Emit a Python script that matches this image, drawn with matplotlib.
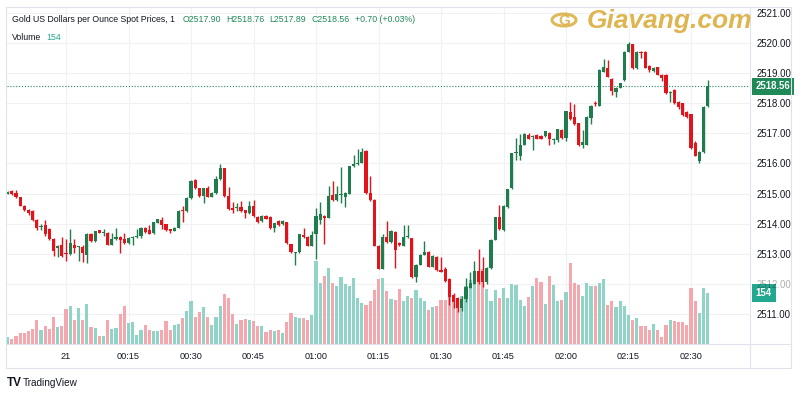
import matplotlib.pyplot as plt
import matplotlib.transforms as mtransforms
import numpy as np
import pandas as pd
from matplotlib.patches import Rectangle, Circle
from matplotlib.lines import Line2D

plt.rcParams['font.family'] = ['Liberation Sans Narrow', 'Liberation Sans', 'DejaVu Sans']

# 1-minute candles, 23:46 -> 02:34
opens = [2515.00, 2515.09, 2515.02, 2514.87, 2514.60, 2514.46, 2514.42, 2514.11, 2513.88, 2513.95,
         2513.83, 2513.50, 2513.20, 2513.28, 2513.00, 2512.99, 2513.30, 2513.22, 2513.24, 2512.97,
         2513.66, 2513.42, 2513.78, 2513.68, 2513.68, 2513.30, 2513.48, 2513.57, 2513.48, 2513.35,
         2513.51, 2513.55, 2513.58, 2513.87, 2513.78, 2513.68, 2514.03, 2514.12, 2513.98, 2513.81,
         2513.76, 2513.86, 2514.43, 2514.42, 2514.85, 2515.45, 2515.18, 2514.93, 2515.18, 2514.89,
         2515.02, 2515.48, 2515.84, 2514.91, 2514.52, 2514.52, 2514.56, 2514.45, 2514.34, 2514.60,
         2514.23, 2514.09, 2514.27, 2514.23, 2513.84, 2514.09, 2513.98, 2514.05, 2513.32, 2513.02,
         2513.05, 2513.62, 2513.57, 2513.27, 2513.65, 2514.12, 2514.27, 2514.20, 2514.96, 2514.77,
         2514.94, 2514.89, 2514.99, 2515.91, 2515.98, 2516.02, 2516.42, 2515.02, 2514.80, 2513.27,
         2512.50, 2513.57, 2513.38, 2513.73, 2513.36, 2513.27, 2513.54, 2513.51, 2512.23, 2512.63,
         2512.97, 2513.07, 2512.57, 2512.90, 2512.46, 2512.50, 2512.15, 2511.64, 2511.52, 2511.20,
         2511.48, 2511.87, 2512.01, 2512.42, 2512.42, 2512.07, 2512.52, 2513.46, 2514.21, 2513.79,
         2514.54, 2515.18, 2516.34, 2516.26, 2516.63, 2516.96, 2516.88, 2516.93, 2516.90, 2516.90,
         2517.01, 2516.79, 2516.79, 2517.11, 2516.84, 2517.70, 2517.55, 2517.33, 2516.62, 2516.63,
         2517.52, 2518.00, 2517.92, 2519.05, 2519.18, 2518.81, 2518.39, 2518.52, 2518.77, 2519.71,
         2519.96, 2519.16, 2519.72, 2519.71, 2519.25, 2519.07, 2519.20, 2518.94, 2518.94, 2518.35,
         2518.44, 2518.05, 2518.00, 2517.72, 2517.63, 2516.67, 2516.08, 2516.37, 2517.90]
highs = [2515.07, 2515.12, 2515.12, 2514.90, 2514.63, 2514.48, 2514.45, 2514.14, 2513.98, 2514.11,
         2513.86, 2513.53, 2513.30, 2513.57, 2513.50, 2513.83, 2513.48, 2513.26, 2513.28, 2513.68,
         2513.68, 2513.77, 2513.80, 2513.83, 2513.72, 2513.70, 2513.87, 2513.60, 2513.70, 2513.54,
         2513.58, 2513.83, 2513.90, 2513.90, 2513.95, 2514.07, 2514.16, 2514.23, 2514.00, 2513.83,
         2513.88, 2514.44, 2514.59, 2514.87, 2515.45, 2515.47, 2515.20, 2515.20, 2515.26, 2515.04,
         2515.57, 2515.97, 2515.86, 2515.22, 2514.73, 2514.67, 2514.74, 2514.47, 2514.74, 2514.78,
         2514.25, 2514.29, 2514.29, 2514.25, 2514.03, 2514.11, 2514.11, 2514.07, 2513.34, 2513.06,
         2513.67, 2513.85, 2513.59, 2513.76, 2514.52, 2514.71, 2514.29, 2515.24, 2515.42, 2515.24,
         2515.89, 2515.04, 2515.93, 2516.27, 2516.49, 2516.52, 2516.44, 2515.57, 2514.82, 2513.29,
         2513.65, 2514.08, 2513.78, 2513.75, 2513.38, 2513.95, 2513.95, 2513.53, 2512.65, 2512.99,
         2513.42, 2513.09, 2512.95, 2512.92, 2512.90, 2512.55, 2512.20, 2511.70, 2511.55, 2511.60,
         2512.20, 2512.40, 2512.75, 2513.15, 2512.90, 2512.55, 2513.48, 2514.23, 2514.62, 2514.62,
         2515.16, 2516.36, 2516.85, 2516.99, 2517.01, 2517.01, 2516.95, 2516.98, 2516.95, 2517.09,
         2517.03, 2516.85, 2517.15, 2517.13, 2517.76, 2518.05, 2517.98, 2517.35, 2517.10, 2517.57,
         2517.94, 2518.07, 2519.13, 2519.48, 2519.43, 2518.83, 2518.54, 2518.68, 2519.73, 2520.03,
         2519.98, 2519.73, 2519.75, 2519.73, 2519.27, 2519.20, 2519.22, 2518.96, 2518.96, 2518.40,
         2518.46, 2518.07, 2518.02, 2517.74, 2517.65, 2516.75, 2516.41, 2517.91, 2518.76]
lows = [2514.98, 2514.94, 2514.86, 2514.57, 2514.42, 2514.30, 2514.08, 2513.78, 2513.80, 2513.60,
        2513.44, 2512.93, 2512.90, 2512.88, 2512.75, 2512.96, 2513.04, 2512.75, 2512.72, 2512.70,
        2513.40, 2513.40, 2513.68, 2513.60, 2513.28, 2513.28, 2513.46, 2513.03, 2513.32, 2513.32,
        2513.30, 2513.53, 2513.52, 2513.70, 2513.64, 2513.66, 2514.01, 2513.81, 2513.77, 2513.69,
        2513.74, 2513.84, 2514.06, 2514.40, 2514.83, 2515.15, 2514.89, 2514.70, 2514.87, 2514.87,
        2515.00, 2515.46, 2514.89, 2514.47, 2514.35, 2514.42, 2514.40, 2514.18, 2514.32, 2514.23,
        2514.03, 2514.07, 2514.14, 2513.82, 2513.72, 2513.93, 2513.96, 2513.34, 2513.03, 2512.62,
        2513.03, 2513.52, 2513.25, 2513.25, 2512.83, 2514.00, 2513.32, 2514.18, 2514.75, 2514.75,
        2514.70, 2514.55, 2514.97, 2515.89, 2515.96, 2516.00, 2515.00, 2514.76, 2513.25, 2512.48,
        2512.48, 2513.36, 2513.36, 2512.52, 2513.25, 2513.25, 2513.52, 2512.21, 2512.05, 2512.61,
        2512.95, 2512.55, 2512.55, 2512.44, 2512.38, 2512.05, 2511.30, 2511.20, 2511.05, 2511.10,
        2511.40, 2511.85, 2511.99, 2512.00, 2511.90, 2512.00, 2512.50, 2513.44, 2513.79, 2513.77,
        2514.52, 2515.16, 2516.10, 2516.10, 2516.61, 2516.80, 2516.45, 2516.80, 2516.80, 2516.88,
        2516.62, 2516.65, 2516.70, 2516.82, 2516.75, 2517.46, 2517.28, 2516.59, 2516.50, 2516.61,
        2517.32, 2517.90, 2517.90, 2519.03, 2518.86, 2518.28, 2518.20, 2518.50, 2518.75, 2519.69,
        2519.14, 2519.14, 2519.52, 2519.16, 2519.05, 2519.05, 2518.93, 2518.75, 2518.31, 2518.05,
        2517.98, 2517.80, 2517.59, 2517.50, 2516.48, 2516.24, 2516.00, 2516.35, 2517.89]
closes = [2515.05, 2514.97, 2514.89, 2514.60, 2514.46, 2514.35, 2514.11, 2513.84, 2513.92, 2513.64,
          2513.48, 2513.10, 2513.25, 2512.91, 2512.98, 2513.37, 2513.18, 2513.24, 2513.04, 2513.66,
          2513.42, 2513.75, 2513.70, 2513.69, 2513.30, 2513.48, 2513.57, 2513.46, 2513.35, 2513.51,
          2513.55, 2513.58, 2513.86, 2513.73, 2513.67, 2514.05, 2514.14, 2513.95, 2513.79, 2513.76,
          2513.86, 2514.42, 2514.41, 2514.85, 2515.43, 2515.18, 2514.91, 2515.18, 2514.89, 2515.02,
          2515.48, 2515.84, 2514.91, 2514.49, 2514.45, 2514.54, 2514.42, 2514.36, 2514.60, 2514.25,
          2514.05, 2514.27, 2514.16, 2513.84, 2514.01, 2513.95, 2514.09, 2513.36, 2513.05, 2513.04,
          2513.65, 2513.54, 2513.27, 2513.62, 2514.25, 2514.31, 2514.20, 2514.93, 2514.77, 2514.98,
          2514.97, 2515.02, 2515.91, 2515.98, 2516.02, 2516.38, 2515.02, 2514.78, 2513.27, 2512.50,
          2513.57, 2513.38, 2513.76, 2513.14, 2513.29, 2513.54, 2513.56, 2512.23, 2512.63, 2512.97,
          2513.07, 2512.57, 2512.93, 2512.46, 2512.40, 2512.10, 2511.55, 2511.38, 2511.20, 2511.50,
          2511.91, 2512.04, 2512.42, 2512.07, 2512.07, 2512.52, 2513.46, 2514.21, 2513.81, 2514.57,
          2515.14, 2516.34, 2516.36, 2516.63, 2516.99, 2516.82, 2516.89, 2516.82, 2516.82, 2517.07,
          2516.82, 2516.80, 2517.13, 2516.84, 2517.74, 2517.48, 2517.30, 2516.61, 2516.70, 2517.55,
          2517.92, 2517.96, 2519.11, 2519.22, 2518.88, 2518.41, 2518.52, 2518.66, 2519.71, 2519.96,
          2519.16, 2519.71, 2519.68, 2519.18, 2519.11, 2519.18, 2518.95, 2518.83, 2518.33, 2518.37,
          2518.00, 2517.89, 2517.61, 2517.55, 2516.50, 2516.26, 2516.39, 2517.89, 2518.56]
volumes = [21, 15, 25, 33, 33, 40, 46, 73, 43, 55, 46, 83, 51, 55, 106, 116, 73, 109, 73, 122,
           51, 48, 23, 25, 71, 46, 49, 91, 114, 63, 66, 28, 43, 57, 43, 38, 38, 41, 68, 43,
           57, 61, 80, 101, 129, 83, 98, 111, 83, 57, 83, 114, 152, 139, 91, 61, 71, 75, 73, 68,
           55, 53, 36, 43, 40, 41, 33, 65, 95, 82, 79, 79, 73, 88, 252, 184, 204, 231, 184, 174,
           202, 182, 174, 199, 139, 124, 119, 129, 162, 196, 198, 159, 136, 132, 166, 129, 146, 139, 164, 140,
           129, 104, 112, 116, 134, 134, 176, 149, 109, 144, 174, 194, 199, 209, 228, 166, 129, 164, 139, 169,
           139, 182, 179, 134, 114, 142, 174, 199, 188, 122, 206, 179, 129, 134, 156, 246, 184, 179, 146, 184,
           176, 176, 184, 196, 119, 131, 112, 129, 116, 88, 73, 79, 53, 55, 43, 61, 43, 21, 57, 73,
           68, 65, 65, 58, 169, 129, 95, 169, 154]

times = pd.date_range("2024-08-20 23:46", periods=len(closes), freq="min")
tick_times = ["00:00", "00:15", "00:30", "00:45", "01:00", "01:15", "01:30", "01:45", "02:00", "02:15", "02:30"]
tick_labels = ["21", "00:15", "00:30", "00:45", "01:00", "01:15", "01:30", "01:45", "02:00", "02:15", "02:30"]
price_ticks = [2511, 2512, 2513, 2514, 2515, 2516, 2517, 2518, 2519, 2520, 2521]
legend_title = "Gold US Dollars per Ounce Spot Prices, 1"
legend_ohlc = ["O2517.90", "H2518.76", "L2517.89", "C2518.56", "+0.70 (+0.03%)"]

up_col = '#1f7d4d'
down_col = '#e3131b'
vol_up = '#8fd4c6'
vol_down = '#f5a7ae'
grid_col = '#eff1f5'
frame_col = '#e0e3eb'
text_col = '#131722'
green_txt = '#1f8a58'
teal_txt = '#22a88f'

W, H = 800, 400
fig = plt.figure(figsize=(8, 4), dpi=100)
fig.patch.set_facecolor('white')

def fx(px):
    return px / W

def fy(py):
    return 1 - py / H

rect = [fx(7), fy(344), (750 - 7) / W, (344 - 7) / H]
ax_vol = fig.add_axes(rect)
ax = fig.add_axes(rect, sharex=ax_vol)
ax.patch.set_alpha(0)

o = np.array(opens)
c = np.array(closes)
idx = np.arange(len(c))
is_up = c >= o
colors = np.where(is_up, up_col, down_col)
vcolors = np.where(is_up, vol_up, vol_down)

# x positions of time ticks
tick_idx = [int(np.where(times.strftime("%H:%M") == t)[0][0]) for t in tick_times]

ax.set_xlim(-0.16, 178.16)
ax.set_ylim(2510.0, 2521.2)
ax_vol.set_ylim(0, 1018)

# grid (under volume)
blend = mtransforms.blended_transform_factory(ax_vol.transAxes, ax.transData)
for p in price_ticks:
    ax_vol.plot([0, 1], [p, p], transform=blend, color=grid_col, lw=0.8, zorder=0)
for t in tick_idx:
    ax_vol.axvline(t, color=grid_col, lw=0.8, zorder=0)

# volume
ax_vol.bar(idx, volumes, width=0.76, color=vcolors, zorder=2)

# candles
ax.vlines(idx, lows, highs, colors=colors, linewidth=1.0, zorder=3)
body_lo = np.minimum(o, c)
body_h = np.maximum(np.abs(c - o), 0.035)
ax.bar(idx, body_h, bottom=body_lo, width=0.74, color=colors, zorder=4)

# last price line
last = closes[-1]
ax.axhline(last, color=green_txt, lw=0.8, linestyle=(0, (1, 1.6)), zorder=5)

for a in (ax, ax_vol):
    for s in a.spines.values():
        s.set_visible(False)
ax_vol.set_yticks([])
ax_vol.tick_params(axis='x', length=0, labelbottom=False)

ax.set_xticks(tick_idx)
ax.set_xticklabels(tick_labels)
ax.tick_params(axis='x', length=0, pad=6, labelsize=6.6, labelcolor=text_col)
ax.yaxis.tick_right()
ax.set_yticks(price_ticks)
ax.set_yticklabels([f"{p:.2f}" for p in price_ticks])
ax.tick_params(axis='y', length=0, pad=5, labelsize=6.9, labelcolor=text_col)
# the volume badge sits over this label in the reference
ax.get_yticklabels()[1].set_alpha(0.35)

# right-side labels
ax.annotate(f"{last:.2f}", xy=(1, last), xycoords=('axes fraction', 'data'),
            xytext=(4, 0), textcoords='offset points', ha='left', va='center',
            fontsize=6.9, color='white', fontweight='bold',
            bbox=dict(boxstyle='square,pad=0.4', fc=green_txt, ec='none'), zorder=10)
ax_vol.annotate(f"{volumes[-1]}", xy=(1, volumes[-1]), xycoords=('axes fraction', 'data'),
                xytext=(4, 0), textcoords='offset points', ha='left', va='center',
                fontsize=6.9, color='white', fontweight='bold',
                bbox=dict(boxstyle='square,pad=0.4', fc=teal_txt, ec='none'), zorder=10)

# frame
fig.add_artist(Rectangle((fx(6), fy(368)), (791 - 6) / W, (368 - 7) / H, transform=fig.transFigure,
                         fill=False, ec=frame_col, lw=0.8))
fig.add_artist(Line2D([fx(750), fx(750)], [fy(7), fy(368)], transform=fig.transFigure, color=frame_col, lw=0.8))
fig.add_artist(Line2D([fx(6), fx(791)], [fy(344), fy(344)], transform=fig.transFigure, color=frame_col, lw=0.8))

# header legend, placed piece by piece
renderer = fig.canvas.get_renderer()
hy = fy(20)
t0 = fig.text(fx(12), hy, legend_title, fontsize=6.3, color=text_col, va='center')
x_next = t0.get_window_extent(renderer).x1 + 8
for s in legend_ohlc:
    t = fig.text(x_next / W, hy, s, fontsize=6.3, color=green_txt, va='center')
    x_next = t.get_window_extent(renderer).x1 + 5
tv = fig.text(fx(12), fy(37), "Volume", fontsize=6.3, color=text_col, va='center')
fig.text((tv.get_window_extent(renderer).x1 + 5) / W, fy(37), f"{volumes[-1]}", fontsize=6.3,
         color=teal_txt, va='center')

# watermark
gold = '#d9a833'
fig.add_artist(Circle((fx(564), fy(20)), 12 / W, transform=fig.transFigure, fill=False, ec=gold, lw=2.2, alpha=0.8))
fig.text(fx(564), fy(21), "G", fontsize=11, color=gold, ha='center', va='center', fontweight='bold', alpha=0.8)
fig.text(fx(587), fy(21), "Giavang.com", fontsize=19, color=gold, ha='left', va='center',
         fontweight='bold', fontstyle='italic', alpha=0.85)

# TradingView logo
fig.text(fx(7), fy(383), "TV", fontsize=8.5, color=text_col, ha='left', va='center', fontweight='bold')
fig.text(fx(23), fy(383), "TradingView", fontsize=7.2, color=text_col, ha='left', va='center')

fig.savefig("out.png", dpi=100)
